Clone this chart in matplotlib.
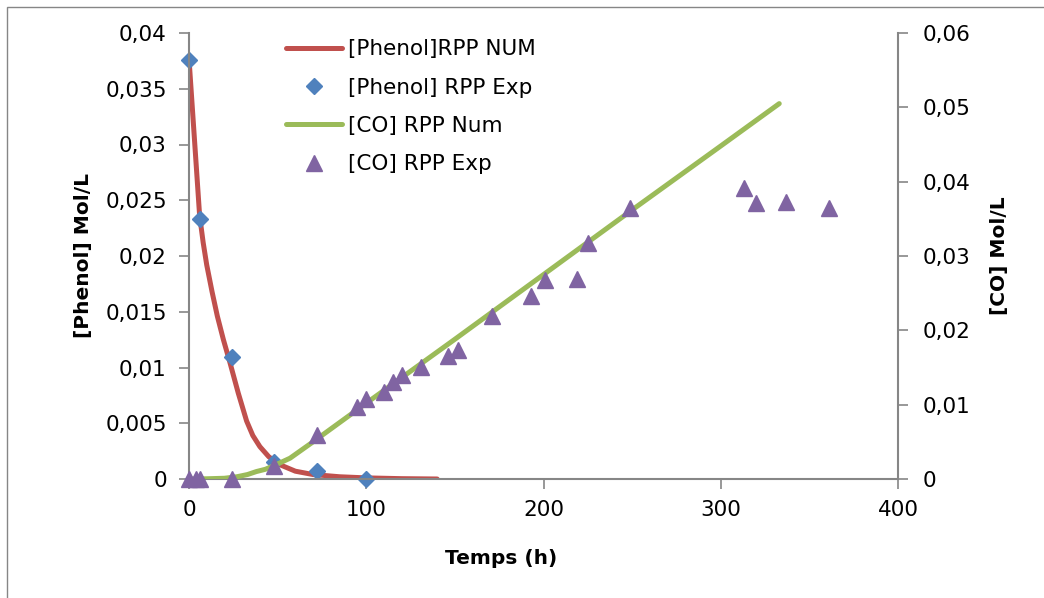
import matplotlib
matplotlib.use("Agg")
import matplotlib.pyplot as plt
from matplotlib.ticker import FuncFormatter
from matplotlib.patches import Rectangle

# [Phenol] numerical model (left axis)
t_phenol_num = [0, 2, 4, 6, 8, 10, 13, 16, 19.4, 23, 27.8, 32.5, 36, 40, 45, 51, 60, 70,
                85, 100, 120, 140]
phenol_num = [0.0377, 0.0330, 0.0283, 0.0236, 0.0212, 0.0192, 0.0168, 0.0146, 0.0125,
              0.0105, 0.0077, 0.0052, 0.0039, 0.0029, 0.0020, 0.0013, 0.0007, 0.0004,
              0.0002, 0.0001, 0.00003, 0.0]

# [Phenol] experimental
t_phenol_exp = [0, 6, 24, 48, 72, 100]
phenol_exp = [0.0376, 0.0233, 0.0109, 0.0015, 0.0007, 0.0]

# [CO] numerical model (right axis)
t_co_num = [0, 10, 20, 27, 33, 38, 43, 48, 57, 70, 100, 150, 200, 250, 300, 333]
co_num = [0.0, 0.00003, 0.0001, 0.0003, 0.0006, 0.0010, 0.0013, 0.0018, 0.0028, 0.0050,
          0.0102, 0.0188, 0.0275, 0.0362, 0.0448, 0.0505]

# [CO] experimental
t_co_exp = [0, 4, 6, 24, 48, 72, 95, 100, 110, 115, 120, 131, 146, 152, 171, 193,
            201, 219, 225, 249, 313, 320, 337, 361]
co_exp = [0.0, 0.0, 0.0, 0.0, 0.0017, 0.0059, 0.0097, 0.0107, 0.0117, 0.0131, 0.0140,
          0.0151, 0.0165, 0.0174, 0.0219, 0.0246, 0.0268, 0.0269, 0.0317, 0.0364,
          0.0391, 0.0371, 0.0373, 0.0365]

x_ticks = [0, 100, 200, 300, 400]
left_ticks = [0, 0.005, 0.01, 0.015, 0.02, 0.025, 0.03, 0.035, 0.04]
right_ticks = [0, 0.01, 0.02, 0.03, 0.04, 0.05, 0.06]

plt.rcParams['font.family'] = ['DejaVu Sans']
gray = '#868686'

fig = plt.figure(figsize=(10.44, 5.98), dpi=100)
fig.patches.append(Rectangle((7 / 1044, -0.1), 1.2, 1.1 - 7 / 598, transform=fig.transFigure,
                             fill=False, edgecolor=gray, lw=1.0))
ax = fig.add_axes([189 / 1044, 1 - 479 / 598, (898 - 189) / 1044, (479 - 33) / 598])
ax2 = ax.twinx()

l1, = ax.plot(t_phenol_num, phenol_num, color='#C0504D', lw=3.6, solid_capstyle='round',
              label='[Phenol]RPP NUM')
d1, = ax.plot(t_phenol_exp, phenol_exp, 'D', color='#4F81BD', ms=8.5, mec='#4F81BD',
              label='[Phenol] RPP Exp', clip_on=False)
l2, = ax2.plot(t_co_num, co_num, color='#9BBB59', lw=3.6, solid_capstyle='round',
               label='[CO] RPP Num')
m2, = ax2.plot(t_co_exp, co_exp, '^', color='#8064A2', ms=11, mec='#8064A2',
               label='[CO] RPP Exp', clip_on=False)

ax.set_xlim(0, 400)
ax.set_ylim(0, 0.04)
ax2.set_ylim(0, 0.06)
ax.set_xticks(x_ticks)
ax.set_yticks(left_ticks)
ax2.set_yticks(right_ticks)

fmt = FuncFormatter(lambda v, p: f"{v:g}".replace('.', ','))
ax.yaxis.set_major_formatter(fmt)
ax2.yaxis.set_major_formatter(fmt)

for a in (ax, ax2):
    for s in a.spines.values():
        s.set_color(gray)
    a.spines['top'].set_visible(False)
    a.tick_params(colors=gray, labelcolor='black', labelsize=15.5, length=7, width=1.2)
ax.spines['right'].set_visible(False)
ax2.spines['left'].set_visible(False)
ax2.spines['bottom'].set_visible(False)
ax.tick_params(axis='y', pad=9)
ax.tick_params(axis='x', pad=8)
ax2.tick_params(axis='y', pad=11)
ax.spines['left'].set_linewidth(1.5)
ax2.spines['right'].set_linewidth(1.5)
ax.spines['bottom'].set_linewidth(1.5)

ax.set_xlabel('Temps (h)', fontsize=14.5, fontweight='bold')
ax.set_ylabel('[Phenol] Mol/L', fontsize=14.5, fontweight='bold')
ax2.set_ylabel('[CO] Mol/L', fontsize=14.5, fontweight='bold')
ax.xaxis.set_label_coords((501 - 189) / 709, (479 - 558) / 446)
ax.yaxis.set_label_coords((83 - 189) / 709, 0.5)
ax2.yaxis.set_label_coords((1000 - 189) / 709, 0.5)
ax.xaxis.label.set_va('center')
ax.yaxis.label.set_va('center')
ax2.yaxis.label.set_va('center')

ax2.legend(handles=[l1, d1, l2, m2], loc='upper left', bbox_to_anchor=(0.125, 1.005),
           frameon=False, fontsize=15.5, handlelength=2.6, handletextpad=0.25,
           labelspacing=0.85, borderaxespad=0)

fig.savefig('out.png', dpi=100)
